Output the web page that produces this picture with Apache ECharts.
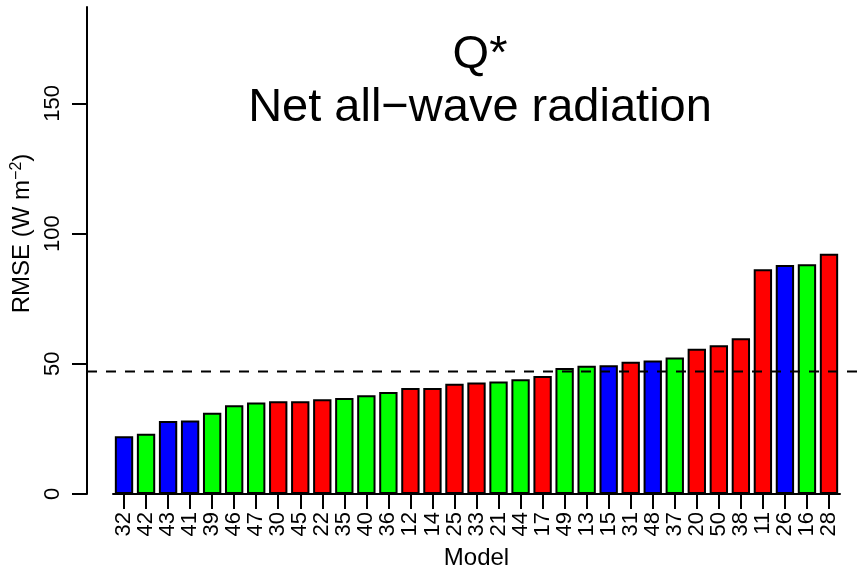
<!DOCTYPE html>
<html>
<head>
<meta charset="utf-8">
<script src="https://cdn.jsdelivr.net/npm/echarts@6/dist/echarts.min.js"></script>
<style>html,body{margin:0;padding:0;background:#fff}#c{width:860px;height:573px}</style>
</head>
<body>
<div id="c"></div>
<script>
// Data
var models = ['32','42','43','41','39','46','47','30','45','22','35','40','36','12','14','25','33','21','44','17','49','13','15','31','48','37','20','50','38','11','26','16','28'];
var rmse = [22.2,23.1,28.0,28.2,31.2,34.1,35.1,35.6,35.6,36.4,36.9,37.9,39.2,40.7,40.7,42.3,42.8,43.2,44.1,45.3,48.4,49.2,49.4,50.8,51.3,52.4,55.8,57.1,59.8,86.3,87.9,88.2,92.3];
var groups = ['B','G','B','B','G','G','G','R','R','R','G','G','G','R','R','R','R','G','G','R','G','G','B','R','B','G','R','R','R','R','B','G','R'];
var yTicks = [0, 50, 100, 150];
var refLine = 47;
var yMax = 187;

var groupColor = { R: '#ff0000', G: '#00ff00', B: '#0000ff' };
var FONT = '"Liberation Sans", Arial, Helvetica, sans-serif';

var barData = rmse.map(function (v, i) {
  return { value: v, itemStyle: { color: groupColor[groups[i]] } };
});

var chart = echarts.init(document.getElementById('c'), null, { renderer: 'canvas' });
chart.setOption({
  animation: false,
  backgroundColor: '#ffffff',
  title: {
    text: 'Q*\nNet all\u2212wave radiation',
    left: 475,
    top: 24,
    textAlign: 'center',
    textStyle: { fontFamily: FONT, fontSize: 47, fontWeight: 'normal', color: '#000', lineHeight: 53 }
  },
  grid: [
    { left: 113, right: 20, top: 7, bottom: 79, containLabel: false, outerBoundsMode: 'none' },
    { left: 87, right: 0, top: 7, bottom: 79, containLabel: false, outerBoundsMode: 'none' }
  ],
  xAxis: [
    {
      type: 'category',
      gridIndex: 0,
      data: models,
      boundaryGap: true,
      name: 'Model',
      nameLocation: 'middle',
      nameGap: 52,
      nameTextStyle: { fontFamily: FONT, fontSize: 24, color: '#000' },
      axisLine: { show: true, lineStyle: { color: '#000', width: 2 } },
      axisTick: { show: true, alignWithLabel: true, length: 15, lineStyle: { color: '#000', width: 2 } },
      axisLabel: { rotate: 90, margin: 18, fontFamily: FONT, fontSize: 22, color: '#000', interval: 0 },
      splitLine: { show: false }
    },
    {
      type: 'value',
      gridIndex: 1,
      min: 0,
      max: 1,
      show: false
    }
  ],
  yAxis: [
    {
      type: 'value',
      gridIndex: 0,
      min: 0,
      max: yMax,
      offset: 26,
      name: 'RMSE (W m{sup|\u22122})',
      nameLocation: 'middle',
      nameGap: 46,
      nameRotate: 90,
      nameTextStyle: {
        fontFamily: FONT, fontSize: 24, color: '#000', padding: [0, 0, 0, 34],
        rich: { sup: { fontFamily: FONT, fontSize: 16, color: '#000', padding: [0, 0, 12, 0] } }
      },
      axisLine: { show: true, lineStyle: { color: '#000', width: 2 } },
      axisTick: { show: true, length: 15, customValues: yTicks, lineStyle: { color: '#000', width: 2 } },
      axisLabel: { rotate: 90, margin: 23, customValues: yTicks, fontFamily: FONT, fontSize: 22, color: '#000' },
      splitLine: { show: false }
    },
    {
      type: 'value',
      gridIndex: 1,
      min: 0,
      max: yMax,
      show: false
    }
  ],
  series: [
    {
      type: 'bar',
      xAxisIndex: 0,
      yAxisIndex: 0,
      data: barData,
      barCategoryGap: '16.7%',
      itemStyle: { borderColor: '#000', borderWidth: 2 }
    },
    {
      type: 'line',
      xAxisIndex: 1,
      yAxisIndex: 1,
      data: [[0, refLine], [1, refLine]],
      symbol: 'none',
      silent: true,
      lineStyle: { color: '#000', width: 2, type: [10, 9] },
      z: 5
    }
  ]
});
</script>
</body>
</html>
